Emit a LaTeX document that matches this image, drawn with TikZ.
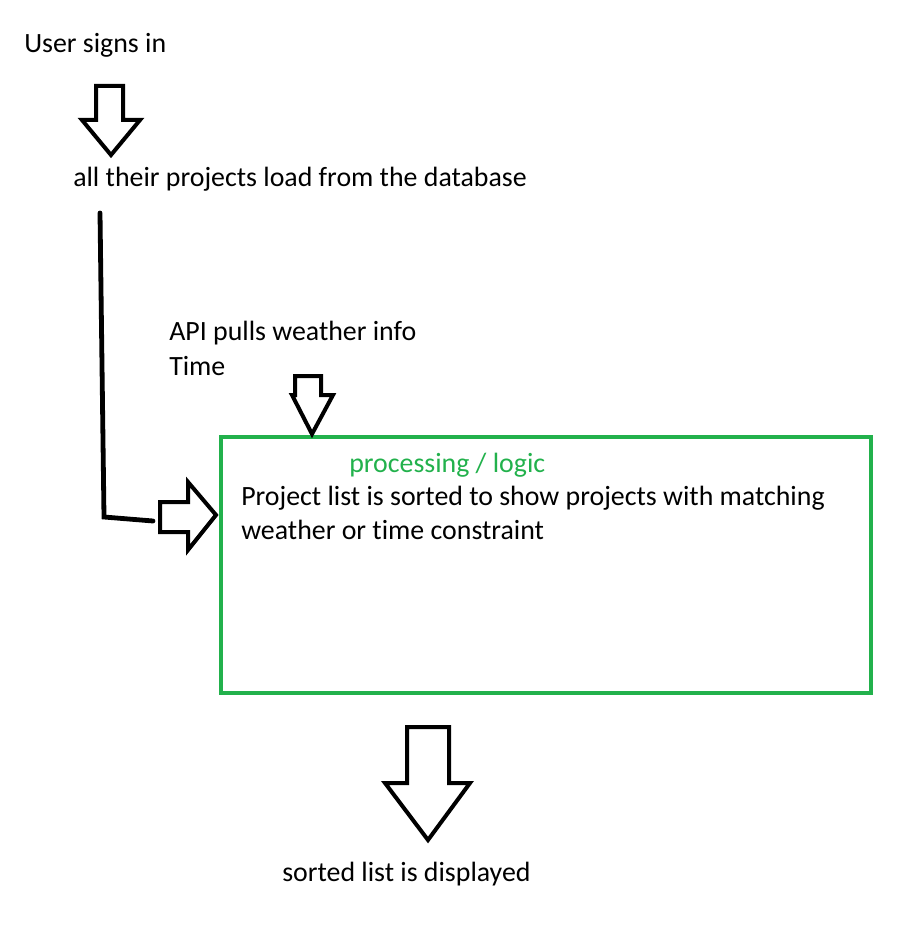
\documentclass[tikz,border=0pt]{standalone}
\usepackage{fontspec}
\setmainfont{Carlito}[Ligatures=NoCommon]
\usepackage{tikz}
\definecolor{paintgreen}{RGB}{34,177,76}

\begin{document}
\begin{tikzpicture}[x=0.75pt, y=-0.75pt,
        flow text/.style={anchor=base west, inner sep=0pt, font=\fontsize{20.9}{25}\selectfont},
        block arrow/.style={draw=black, line width=3pt, fill=white, line join=miter}]
        \useasboundingbox (0, 0) rectangle (909, 934);

        \node[flow text] (signIn) at (24, 53) {User signs in};
        \node[flow text] (loadDb) at (73, 187) {all their projects load from the database};
        \node[flow text] (apiWeather) at (169, 340) {API pulls weather info};
        \node[flow text] (apiTime) at (169, 375) {Time};
        \node[flow text, text=paintgreen] (logicTitle) at (349, 472) {processing / logic};
        \node[flow text] (sortLine1) at (241, 505) {Project list is sorted to show projects with matching};
        \node[flow text] (sortLine2) at (241, 539) {weather or time constraint};
        \node[flow text] (shown) at (282, 881) {sorted list is displayed};

        % processing box
        \draw[paintgreen, line width=3.4pt] (221, 437) rectangle (871, 693);

        % block arrows
        \draw[block arrow] (96, 86) -- (123, 86) -- (123, 120) -- (140, 120) -- (111, 155)
            -- (82, 120) -- (96, 120) -- cycle;
        \draw[block arrow] (295, 376) -- (321, 376) -- (321, 395) -- (333, 395) -- (312, 434)
            -- (292, 395) -- (295, 395) -- cycle;
        \draw[block arrow] (160, 502) -- (188, 502) -- (188, 482) -- (216, 515) -- (188, 550)
            -- (188, 532) -- (160, 532) -- cycle;
        \draw[block arrow] (407, 727) -- (449, 727) -- (449, 783) -- (470, 783) -- (428, 840)
            -- (385, 783) -- (407, 783) -- cycle;

        % line from the database to the box
        \coordinate (dbTop) at (100, 213);
        \coordinate (dbBend) at (104, 517);
        \coordinate (dbEnd) at (153, 521);
        \draw[line width=3.6pt, line cap=round] (dbTop) -- (dbBend) -- (dbEnd);
    \end{tikzpicture}
\end{document}
